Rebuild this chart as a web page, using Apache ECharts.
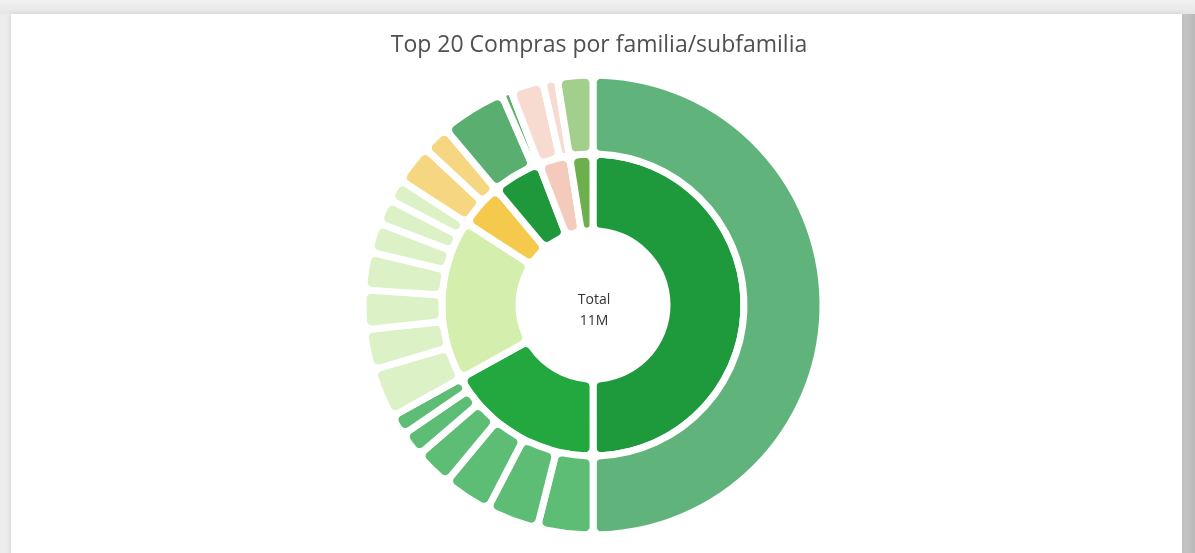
<!DOCTYPE html>
<html>
<head>
<meta charset="utf-8">
<script src="https://cdn.jsdelivr.net/npm/echarts@6/dist/echarts.min.js"></script>
<style>
  html, body { margin: 0; padding: 0; width: 1195px; height: 553px; overflow: hidden; background: #ececec; }
  #topband { position: absolute; left: 0; top: 0; width: 1195px; height: 14px; background: linear-gradient(#f2f2f2, #e6e6e6); }
  #rightband { position: absolute; left: 1182px; top: 14px; width: 13px; height: 539px; background: linear-gradient(to right, #c9c9c9, #b9b9b9); }
  #card { position: absolute; left: 11px; top: 14px; width: 1171px; height: 560px; background: #ffffff; box-shadow: 0 0 5px rgba(0,0,0,0.12); }
  #chart { position: absolute; left: 0; top: 0; width: 1195px; height: 553px; }
</style>
</head>
<body>
<div id="topband"></div>
<div id="rightband"></div>
<div id="card"></div>
<div id="chart"></div>
<script>
// Purchases (thousands) by family, each family split into its subfamilies
const familias = ['Familia 1', 'Familia 2', 'Familia 3', 'Familia 4', 'Familia 5', 'Familia 6', 'Familia 7'];
const subFamilia1 = [5450];
const subFamilia2 = [427, 403, 372, 291, 194, 160];
const subFamilia3 = [382, 309, 303, 291, 230, 194, 170];
const subFamilia4 = [303, 212];
const subFamilia5 = [500, 76];
const subFamilia6 = [251, 112];
const subFamilia7 = [272];
const subfamilias = [subFamilia1, subFamilia2, subFamilia3, subFamilia4, subFamilia5, subFamilia6, subFamilia7];

// Inner ring colour and outer ring colour per family
const coloresFamilia = ['#1e9a3c', '#22a83f', '#d4eeae', '#f4c94c', '#1f983b', '#f3cabb', '#6cb04e'];
const coloresSub     = ['#60b47b', '#5dbd75', '#ddf1c6', '#f6d681', '#5aae70', '#f7dad0', '#a2d08c'];

const titulo = 'Top 20 Compras por familia/subfamilia';

const data = familias.map((f, i) => ({
  name: f,
  itemStyle: { color: coloresFamilia[i] },
  children: subfamilias[i].map((v, j) => ({
    name: f + ' - Sub ' + (j + 1),
    value: v,
    itemStyle: { color: coloresSub[i] }
  }))
}));

const total = subfamilias.flat().reduce((a, b) => a + b, 0);
const totalLabel = Math.round(total / 1000) + 'M';

const chart = echarts.init(document.getElementById('chart'), null, { renderer: 'canvas' });
chart.setOption({
  backgroundColor: 'transparent',
  animation: false,
  title: {
    text: titulo,
    left: 594,
    top: 29,
    textAlign: 'center',
    textStyle: { fontFamily: 'Open Sans', fontSize: 23, fontWeight: 'normal', color: '#505050' }
  },
  graphic: [{
    type: 'text',
    x: 594, y: 311,
    style: {
      text: 'Total\n' + totalLabel,
      x: 0, y: 0,
      textAlign: 'center',
      textVerticalAlign: 'middle',
      fontFamily: 'Open Sans',
      fontSize: 14,
      lineHeight: 21,
      fill: '#333333'
    }
  }],
  series: [{
    type: 'sunburst',
    center: [593, 305],
    startAngle: 90,
    sort: null,
    nodeClick: false,
    emphasis: { disabled: true },
    label: { show: false },
    itemStyle: { borderColor: '#ffffff', borderWidth: 7, borderRadius: 8 },
    levels: [
      {},
      { r0: 74, r: 151, label: { show: false } },
      { r0: 151, r: 230, label: { show: false } }
    ],
    data: data
  }]
});
</script>
</body>
</html>
